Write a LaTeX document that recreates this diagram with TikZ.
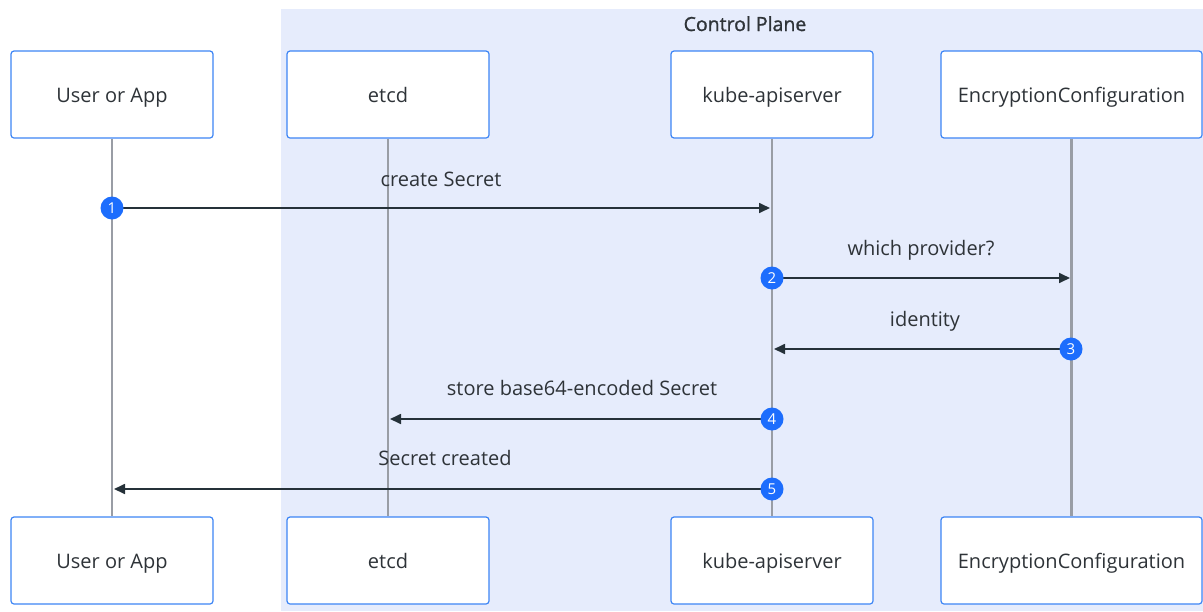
\documentclass[tikz,border=0pt]{standalone}
\usepackage{fontspec}
\setmainfont{Open Sans}
\newfontfamily\titlefont[FakeBold=1.2]{Open Sans}
\usetikzlibrary{arrows.meta}
\definecolor{planebg}{HTML}{E6ECFC}
\definecolor{boxline}{HTML}{3D85F5}
\definecolor{lifeline}{HTML}{999DA5}
\definecolor{msgline}{HTML}{253139}
\definecolor{txt}{HTML}{2E3338}
\definecolor{badge}{HTML}{1C6DFD}
\tikzset{
  textfont/.style={font=\fontsize{20}{24}\selectfont, text=txt,
    text height=18.5pt, text depth=2.5pt},
  actor/.style={draw=boxline, line width=1.2pt, fill=white, rounded corners=3pt,
    minimum width=202pt, minimum height=87pt, inner sep=0pt, textfont},
  life/.style={draw=lifeline, line width=2.6pt},
  msg/.style={draw=msgline, line width=1.7pt, -{Triangle[length=11pt,width=10pt]}},
  msglabel/.style={textfont, inner sep=0pt},
  num/.style={circle, fill=badge, minimum size=23pt, inner sep=0pt, text=white,
    font=\fontsize{15}{16}\selectfont}
}
\begin{document}
\begin{tikzpicture}[x=1pt,y=-1pt]
\useasboundingbox (0,0) rectangle (1203,611);
% control plane region
\fill[planebg] (281,9) rectangle (1203,611);
\node[msglabel, font=\titlefont\fontsize{19.5}{24}\selectfont] (cp) at (745,23) {Control Plane};

% participants (top row)
\node[actor] (u1) at (112,94.5) {User or App};
\node[actor] (e1) at (388,94.5) {etcd};
\node[actor] (k1) at (772,94.5) {kube-apiserver};
\node[actor, minimum width=261pt] (c1) at (1071.5,94.5) {EncryptionConfiguration};
% participants (bottom row)
\node[actor] (u2) at (112,560.5) {User or App};
\node[actor] (e2) at (388,560.5) {etcd};
\node[actor] (k2) at (772,560.5) {kube-apiserver};
\node[actor, minimum width=261pt] (c2) at (1071.5,560.5) {EncryptionConfiguration};

% lifelines
\draw[life] (u1.south) -- (u2.north);
\draw[life] (e1.south) -- (e2.north);
\draw[life] (k1.south) -- (k2.north);
\draw[life] (c1.south) -- (c2.north);

% message anchor points on lifelines
\coordinate (m1s) at (112,208);  \coordinate (m1e) at (770,208);
\coordinate (m2s) at (772,278);  \coordinate (m2e) at (1070,278);
\coordinate (m3s) at (1071,349); \coordinate (m3e) at (774,349);
\coordinate (m4s) at (772,419);  \coordinate (m4e) at (390,419);
\coordinate (m5s) at (772,489);  \coordinate (m5e) at (114,489);

% messages
\draw[msg] (m1s) -- (m1e);
\draw[msg] (m2s) -- (m2e);
\draw[msg] (m3s) -- (m3e);
\draw[msg] (m4s) -- (m4e);
\draw[msg] (m5s) -- (m5e);

\node[msglabel] (l1) at (441,178) {create Secret};
\node[msglabel] (l2) at (921,247) {which provider?};
\node[msglabel] (l3) at (925,318) {identity};
\node[msglabel] (l4) at (582,387) {store base64-encoded Secret};
\node[msglabel] (l5) at (445,457) {Secret created};

% step badges
\node[num] (n1) at (m1s) {1};
\node[num] (n2) at (m2s) {2};
\node[num] (n3) at (m3s) {3};
\node[num] (n4) at (m4s) {4};
\node[num] (n5) at (m5s) {5};
\end{tikzpicture}
\end{document}
